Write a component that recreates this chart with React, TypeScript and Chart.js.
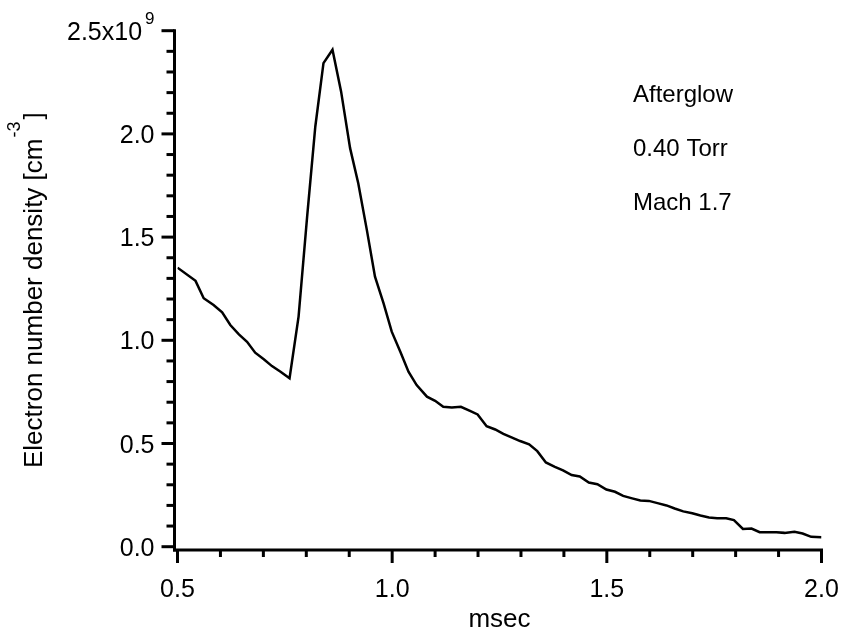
import React, { useEffect, useRef } from "react";
import { Chart, registerables } from "chart.js";

Chart.register(...registerables);

// ---- data (time in msec, electron density in units of 1e9 cm^-3) ----
const timeMs: number[] = [
  0.5, 0.542, 0.561, 0.584, 0.604, 0.623, 0.643, 0.662, 0.681, 0.701, 0.72, 0.74, 0.761,
  0.782, 0.802, 0.821, 0.84, 0.861, 0.881, 0.902, 0.921, 0.941, 0.96, 0.98, 0.999,
  1.019, 1.038, 1.057, 1.081, 1.1, 1.119, 1.139, 1.16, 1.18, 1.199, 1.22, 1.24, 1.259,
  1.278, 1.298, 1.319, 1.338, 1.358, 1.379, 1.398, 1.418, 1.437, 1.458, 1.478, 1.499,
  1.519, 1.538, 1.559, 1.578, 1.598, 1.618, 1.639, 1.658, 1.678, 1.699, 1.718, 1.738,
  1.757, 1.778, 1.796, 1.817, 1.837, 1.856, 1.875, 1.895, 1.914, 1.937, 1.956, 1.976, 2.0,
];
const densityE9: number[] = [
  1.352, 1.288, 1.204, 1.171, 1.136, 1.074, 1.029, 0.993, 0.94, 0.908, 0.875, 0.848, 0.816,
  1.115, 1.6, 2.036, 2.343, 2.408, 2.206, 1.931, 1.761, 1.535, 1.308, 1.179, 1.042,
  0.945, 0.848, 0.783, 0.727, 0.707, 0.678, 0.675, 0.678, 0.659, 0.641, 0.584, 0.568, 0.547,
  0.53, 0.512, 0.496, 0.463, 0.408, 0.387, 0.37, 0.347, 0.34, 0.311, 0.303, 0.277,
  0.266, 0.246, 0.234, 0.224, 0.222, 0.211, 0.2, 0.185, 0.171, 0.162, 0.151, 0.142,
  0.138, 0.138, 0.129, 0.086, 0.088, 0.07, 0.07, 0.07, 0.067, 0.072, 0.064, 0.048, 0.046,
];

// ---- axes / ticks ----
const xMajorTicks: number[] = [0.5, 1.0, 1.5, 2.0];
const xTickLabels: string[] = ["0.5", "1.0", "1.5", "2.0"];
const xMinorTicks: number[] = [0.6, 0.7, 0.8, 0.9, 1.1, 1.2, 1.3, 1.4, 1.6, 1.7, 1.8, 1.9];
const yMajorTicks: number[] = [0, 0.5, 1.0, 1.5, 2.0, 2.5];
const yTickLabels: string[] = ["0.0", "0.5", "1.0", "1.5", "2.0", "2.5x10"];
const yTopExponent = "9";
const yMinorTicks: number[] = [
  0.1, 0.2, 0.3, 0.4, 0.6, 0.7, 0.8, 0.9, 1.1, 1.2, 1.3, 1.4, 1.6, 1.7, 1.8, 1.9, 2.1, 2.2, 2.3, 2.4,
];
const xTitle = "msec";
const yTitleMain = "Electron number density [cm";
const yTitleSup = "-3";
const yTitleEnd = "]";
const annotations: string[] = ["Afterglow", "0.40 Torr", "Mach 1.7"];

const FONT = '"Liberation Sans", Arial, Helvetica, sans-serif';

const axesPlugin = {
  id: "customAxes",
  afterDraw(chart: any) {
    const ctx: CanvasRenderingContext2D = chart.ctx;
    const { left, bottom, right, top } = chart.chartArea;
    const xs = chart.scales.x;
    const ys = chart.scales.y;
    const axisX = left - 3;
    const axisY = bottom + 3.3;
    ctx.save();
    ctx.strokeStyle = "#000";
    ctx.fillStyle = "#000";
    ctx.lineWidth = 3;
    ctx.lineCap = "butt";

    const seg = (x1: number, y1: number, x2: number, y2: number) => {
      ctx.beginPath();
      ctx.moveTo(x1, y1);
      ctx.lineTo(x2, y2);
      ctx.stroke();
    };

    // axis lines
    seg(axisX, ys.getPixelForValue(2.5) - 1.5, axisX, axisY + 1.5);
    seg(axisX - 1.5, axisY, xs.getPixelForValue(2.0) + 1.5, axisY);

    // ticks
    yMajorTicks.forEach((v) => {
      const py = ys.getPixelForValue(v);
      seg(axisX, py, axisX - 13, py);
    });
    yMinorTicks.forEach((v) => {
      const py = ys.getPixelForValue(v);
      seg(axisX, py, axisX - 8, py);
    });
    xMajorTicks.forEach((v) => {
      const px = xs.getPixelForValue(v);
      seg(px, axisY, px, axisY + 13);
    });
    xMinorTicks.forEach((v) => {
      const px = xs.getPixelForValue(v);
      seg(px, axisY, px, axisY + 7);
    });

    // y tick labels
    const labelRight = 154.5;
    ctx.textBaseline = "alphabetic";
    yMajorTicks.forEach((v, i) => {
      const py = ys.getPixelForValue(v);
      if (i === yMajorTicks.length - 1) {
        ctx.font = `17px ${FONT}`;
        const w9 = ctx.measureText(yTopExponent).width;
        ctx.textAlign = "left";
        ctx.fillText(yTopExponent, labelRight - w9, py - 7);
        ctx.font = `25px ${FONT}`;
        ctx.textAlign = "right";
        ctx.fillText(yTickLabels[i], labelRight - w9 - 3, py + 9);
      } else {
        ctx.font = `25px ${FONT}`;
        ctx.textAlign = "right";
        ctx.fillText(yTickLabels[i], labelRight, py + 9);
      }
    });

    // x tick labels
    ctx.font = `25px ${FONT}`;
    ctx.textAlign = "center";
    xMajorTicks.forEach((v, i) => {
      ctx.fillText(xTickLabels[i], xs.getPixelForValue(v), 597);
    });

    // x title
    ctx.font = `26px ${FONT}`;
    ctx.fillText(xTitle, (left + right) / 2, 627);

    // y title (rotated)
    ctx.save();
    ctx.translate(41.5, 468);
    ctx.rotate(-Math.PI / 2);
    ctx.textAlign = "left";
    ctx.textBaseline = "alphabetic";
    ctx.font = `26px ${FONT}`;
    const wMain = ctx.measureText(yTitleMain).width;
    ctx.fillText(yTitleMain, 0, 0);
    let cx = wMain + 1;
    ctx.font = `18px ${FONT}`;
    const wSup = ctx.measureText(yTitleSup).width;
    ctx.fillText(yTitleSup, cx, -22);
    cx += wSup + 2;
    ctx.font = `26px ${FONT}`;
    ctx.fillText(yTitleEnd, cx, 0);
    ctx.restore();

    // annotations
    ctx.font = `24px ${FONT}`;
    ctx.textAlign = "left";
    ctx.textBaseline = "alphabetic";
    annotations.forEach((t, i) => {
      ctx.fillText(t, 633, top + 71 + i * 54);
    });

    ctx.restore();
  },
};

export default function App() {
  const ref = useRef<HTMLCanvasElement | null>(null);
  useEffect(() => {
    if (!ref.current) return;
    const chart = new Chart(ref.current, {
      type: "line",
      data: {
        datasets: [
          {
            data: timeMs.map((t, i) => ({ x: t, y: densityE9[i] })),
            borderColor: "#000",
            borderWidth: 2.5,
            pointRadius: 0,
            tension: 0,
            fill: false,
          },
        ],
      },
      options: {
        animation: false,
        responsive: false,
        events: [],
        layout: { padding: { left: 177.5, right: 19.5, top: 30.7, bottom: 84.3 } },
        plugins: { legend: { display: false }, tooltip: { enabled: false } },
        scales: {
          x: { type: "linear", min: 0.5, max: 2.0, display: false },
          y: { type: "linear", min: 0, max: 2.5, display: false },
        },
      },
      plugins: [axesPlugin],
    });
    return () => chart.destroy();
  }, []);
  return (
    <div style={{ position: "absolute", left: 0, top: 0, width: 841, height: 631 }}>
      <canvas ref={ref} width={841} height={631} style={{ display: "block" }} />
    </div>
  );
}
